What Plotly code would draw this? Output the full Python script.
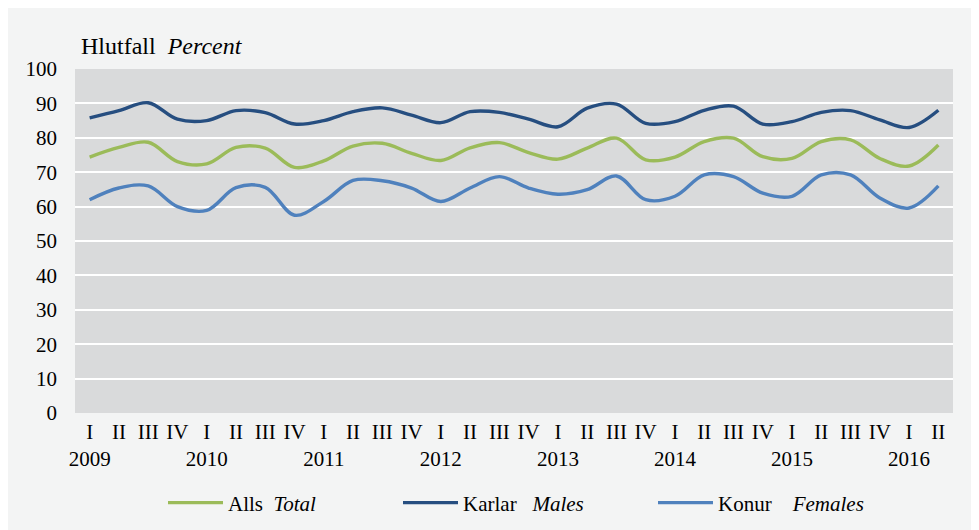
import plotly.graph_objects as go

quarters = ["I", "II", "III", "IV"]
years = [2009, 2010, 2011, 2012, 2013, 2014, 2015, 2016]
n_points = 30

alls = [74.4, 77.2, 78.7, 73.1, 72.4, 77.2, 77.0, 71.4, 73.3, 77.6,
        78.4, 75.5, 73.4, 77.1, 78.6, 75.7, 73.8, 77.0, 79.9, 73.6,
        74.4, 78.9, 79.9, 74.5, 74.0, 78.9, 79.4, 74.0, 71.8, 77.9]
karlar = [85.8, 87.9, 90.2, 85.4, 85.0, 87.9, 87.3, 84.0, 85.0, 87.6,
          88.7, 86.6, 84.4, 87.6, 87.4, 85.4, 83.2, 88.6, 89.8, 84.2,
          84.7, 88.0, 89.2, 84.0, 84.7, 87.4, 87.9, 85.2, 83.0, 88.0]
konur = [62.0, 65.4, 66.0, 60.0, 58.9, 65.5, 65.6, 57.5, 61.5, 67.6,
         67.5, 65.4, 61.5, 65.4, 68.7, 65.4, 63.6, 64.9, 68.9, 62.0,
         63.0, 69.2, 68.7, 63.9, 63.0, 69.2, 69.2, 62.5, 59.6, 66.0]

x_idx = list(range(n_points))
tick_text = []
for i in x_idx:
    q = quarters[i % 4]
    if i % 4 == 0:
        tick_text.append(f"{q}<br>{years[i // 4]}")
    else:
        tick_text.append(q)

font = "Liberation Serif"
FS = 21

fig = go.Figure()
series = [
    ("Alls  <i>Total</i>", alls, "#9bbb59", "legend"),
    ("Karlar   <i>Males</i>", karlar, "#264e80", "legend2"),
    ("Konur    <i>Females</i>", konur, "#4f81bd", "legend3"),
]
for name, vals, col, lg in series:
    fig.add_trace(go.Scatter(
        x=x_idx, y=vals, name=name, mode="lines", legend=lg,
        line=dict(color=col, width=3.4, shape="spline", smoothing=1.0),
    ))

FW, FH = 979, 530
L, T, R, B = 67, 60.5, 34, 124.5
W = FW - L - R
H = FH - T - B

def lg(xpx):
    return dict(
        orientation="h", x=xpx / FW, y=(FH - 495) / FH,
        xref="container", yref="container",
        xanchor="left", yanchor="middle",
        bgcolor="rgba(0,0,0,0)", font=dict(family=font, size=FS),
        itemwidth=55,
    )

fig.update_layout(
    width=FW, height=FH,
    margin=dict(l=L, r=R, t=T, b=B, autoexpand=False),
    paper_bgcolor="#f3f4f4",
    plot_bgcolor="#d9dadb",
    font=dict(family=font, size=FS, color="#000000"),
    showlegend=True,
    legend=lg(155), legend2=lg(390), legend3=lg(645),
    xaxis=dict(
        range=[-0.5, n_points - 0.5], automargin=False,
        tickvals=x_idx, ticktext=tick_text, tickangle=0,
        showgrid=False, zeroline=False, showline=False,
        ticks="", tickfont=dict(family=font, size=FS),
        ticklabelstandoff=4,
    ),
    yaxis=dict(
        range=[0, 100], dtick=10, tick0=0, automargin=False,
        showgrid=True, gridcolor="#ffffff", gridwidth=2.2,
        zeroline=False, showline=False, ticks="",
        tickfont=dict(family=font, size=FS),
        ticklabelstandoff=17,
    ),
    annotations=[dict(
        text="Hlutfall  <i>Percent</i>", xref="paper", yref="paper",
        x=4 / W, y=1 + 23.5 / H, xanchor="left", yanchor="middle",
        showarrow=False, font=dict(family=font, size=24),
    )],
)

fig.write_html("out.html")
